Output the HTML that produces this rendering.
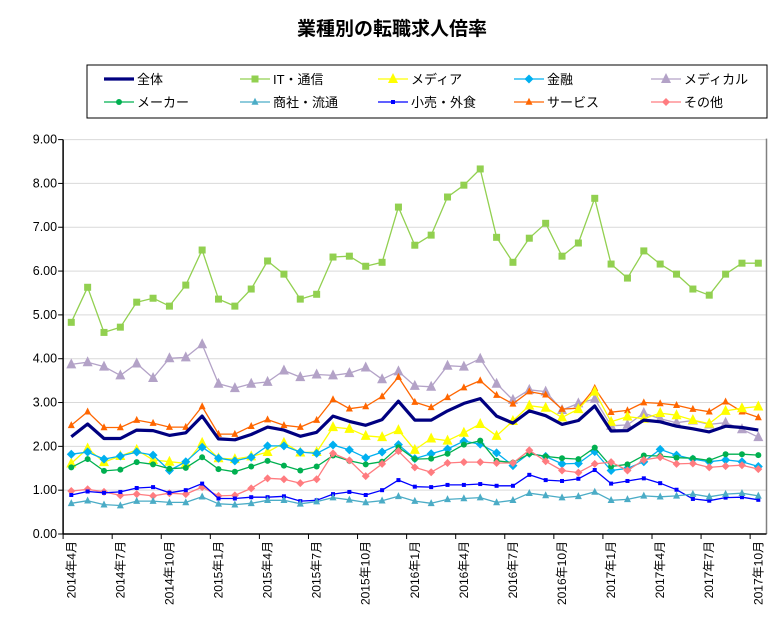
<!DOCTYPE html>
<html><head><meta charset="utf-8"><style>
body{margin:0;background:#fff;font-family:"Liberation Sans","Noto Sans CJK JP",sans-serif;}
#wrap{position:relative;width:782px;height:629px;overflow:hidden;}
</style></head><body>
<div id="wrap">
<svg id="chart" width="782" height="629" xmlns="http://www.w3.org/2000/svg">
<text x="392" y="35" text-anchor="middle" font-size="19" font-weight="bold" font-family="Liberation Sans, Noto Sans CJK JP, sans-serif">業種別の転職求人倍率</text>
<rect x="87" y="65" width="680" height="53" fill="#fff" stroke="#000" stroke-width="1"/>
<g id="grid"></g><g id="axes"></g><g id="series"></g><g id="legend"></g>
</svg>
</div>
<script>
const categories = [];
for (let y = 2014, m = 4; categories.length < 43; ) { categories.push(y + '年' + m + '月'); m++; if (m > 12) { m = 1; y++; } }
const yTicks = [0, 1, 2, 3, 4, 5, 6, 7, 8, 9];
const seriesNames = ['全体','IT・通信','メディア','金融','メディカル','メーカー','商社・流通','小売・外食','サービス','その他'];
const allVals = [2.22,2.51,2.18,2.18,2.37,2.36,2.25,2.31,2.69,2.17,2.15,2.27,2.44,2.37,2.23,2.32,2.69,2.57,2.48,2.61,3.03,2.60,2.60,2.81,2.98,3.09,2.69,2.53,2.81,2.70,2.50,2.59,2.92,2.35,2.36,2.60,2.56,2.46,2.40,2.33,2.46,2.43,2.37];
const itVals = [4.83,5.63,4.60,4.72,5.29,5.38,5.20,5.68,6.48,5.36,5.20,5.59,6.23,5.93,5.36,5.47,6.32,6.34,6.11,6.20,7.46,6.59,6.82,7.69,7.96,8.33,6.77,6.20,6.75,7.09,6.34,6.64,7.66,6.16,5.84,6.46,6.16,5.93,5.59,5.45,5.93,6.18,6.18];
const mediaVals = [1.61,1.95,1.64,1.78,1.92,1.69,1.65,1.61,2.08,1.73,1.71,1.77,1.87,2.08,1.86,1.87,2.44,2.40,2.24,2.21,2.37,1.92,2.18,2.13,2.31,2.51,2.24,2.58,2.93,2.88,2.66,2.85,3.25,2.56,2.68,2.63,2.76,2.71,2.60,2.52,2.81,2.87,2.91];
const financeVals = [1.82,1.87,1.71,1.78,1.87,1.80,1.45,1.65,1.98,1.73,1.67,1.75,2.01,2.01,1.87,1.84,2.03,1.92,1.74,1.87,2.04,1.72,1.83,1.94,2.12,2.05,1.85,1.56,1.84,1.77,1.60,1.61,1.88,1.45,1.50,1.65,1.93,1.80,1.71,1.65,1.69,1.65,1.54];
const medicalVals = [3.87,3.92,3.82,3.62,3.89,3.56,4.01,4.03,4.33,3.43,3.33,3.43,3.47,3.73,3.58,3.64,3.62,3.67,3.80,3.53,3.71,3.38,3.36,3.84,3.82,4.00,3.43,3.06,3.29,3.25,2.83,2.98,3.08,2.47,2.49,2.76,2.63,2.54,2.59,2.50,2.54,2.39,2.21];
const makerVals = [1.52,1.71,1.44,1.47,1.64,1.59,1.49,1.51,1.75,1.48,1.42,1.54,1.67,1.56,1.45,1.54,1.79,1.67,1.59,1.65,1.98,1.71,1.72,1.83,2.04,2.13,1.67,1.63,1.83,1.77,1.73,1.71,1.97,1.54,1.59,1.79,1.78,1.74,1.73,1.68,1.82,1.82,1.80];
const tradeVals = [0.70,0.76,0.67,0.65,0.75,0.75,0.72,0.72,0.85,0.69,0.67,0.70,0.77,0.77,0.69,0.74,0.83,0.78,0.72,0.76,0.86,0.75,0.70,0.79,0.81,0.83,0.72,0.77,0.93,0.88,0.83,0.86,0.96,0.77,0.79,0.87,0.85,0.87,0.91,0.85,0.91,0.93,0.87];
const retailVals = [0.89,0.97,0.94,0.96,1.05,1.07,0.94,1.00,1.15,0.81,0.81,0.84,0.84,0.86,0.75,0.77,0.91,0.96,0.89,1.00,1.23,1.08,1.07,1.12,1.12,1.14,1.10,1.10,1.35,1.23,1.21,1.26,1.46,1.15,1.21,1.27,1.16,1.01,0.80,0.76,0.83,0.84,0.78];
const serviceVals = [2.48,2.79,2.43,2.43,2.60,2.53,2.44,2.44,2.91,2.28,2.28,2.46,2.61,2.48,2.44,2.60,3.07,2.86,2.91,3.14,3.58,3.01,2.89,3.12,3.34,3.50,3.17,2.97,3.25,3.18,2.85,2.87,3.33,2.78,2.82,3.00,2.98,2.94,2.85,2.79,3.02,2.79,2.66];
const otherVals = [0.98,1.02,0.96,0.88,0.91,0.87,0.93,0.91,1.07,0.87,0.88,1.04,1.27,1.25,1.16,1.25,1.84,1.68,1.32,1.60,1.89,1.52,1.41,1.62,1.64,1.64,1.62,1.62,1.91,1.66,1.45,1.40,1.60,1.64,1.45,1.69,1.75,1.60,1.61,1.52,1.55,1.57,1.48];

const NS = 'http://www.w3.org/2000/svg';
const X0 = 63.1, X1 = 766.5, Y0 = 534, Y9 = 139.6;
const bw = (X1 - X0) / categories.length;
function xAt(i) { return X0 + bw * (i + 0.5); }
function yAt(v) { return Y0 - (Y0 - Y9) * v / 9; }
function mk(tag, attrs, parent) { const e = document.createElementNS(NS, tag); for (const k in attrs) e.setAttribute(k, attrs[k]); parent.appendChild(e); return e; }

const grid = document.getElementById('grid'), axes = document.getElementById('axes');
yTicks.forEach(t => {
  const y = yAt(t);
  if (t > 0) { const gl = mk('line', {x1: X0, x2: X1, y1: y, y2: y, stroke: '#d9d9d9', 'stroke-width': 1}, grid);
    
     }
  const tk = mk('line', {x1: X0 - 5, x2: X0, y1: y, y2: y, stroke: '#000'}, axes);
  
  
  const tx = mk('text', {x: X0 - 6, y: y + 4, 'text-anchor': 'end', 'font-size': 12.5, fill: '#000'}, axes);
  tx.textContent = t.toFixed(2);
  
  
});
const rb = mk('line', {x1: X1, x2: X1, y1: Y9 - 1, y2: Y0, stroke: '#808080', 'stroke-width': 1.5}, axes);


const ya = mk('line', {x1: X0, x2: X0, y1: Y9, y2: Y0, stroke: '#000', 'stroke-width': 1.5}, axes);


const xa = mk('line', {x1: X0, x2: X1, y1: Y0, y2: Y0, stroke: '#000', 'stroke-width': 1.5}, axes);


for (let i = 0; i <= categories.length; i += 3) {
  const x = X0 + bw * i;
  const tk = mk('line', {x1: x, x2: x, y1: Y0, y2: Y0 + 5, stroke: '#000'}, axes);
  
  
}
categories.forEach((c, i) => {
  if (i % 3) return;
  const x = xAt(i) + 4, y = 541;
  const tx = mk('text', {x: x, y: y, 'text-anchor': 'end', 'font-size': 12, transform: 'rotate(-90 ' + x + ' ' + y + ')'}, axes);
  tx.textContent = c;
  
  
});

const styles = [
  {vals: allVals, color: '#000080', w: 3.2, m: 'none', s: 0, name: 'series-all'},
  {vals: itVals, color: '#92d050', w: 1.3, m: 'square', s: 7, name: 'series-it'},
  {vals: mediaVals, color: '#ffff00', w: 1.3, m: 'tri', s: 10, name: 'series-media'},
  {vals: financeVals, color: '#00b0f0', w: 1.3, m: 'diamond', s: 9, name: 'series-finance'},
  {vals: medicalVals, color: '#b3a2c7', w: 1.3, m: 'tri', s: 10, name: 'series-medical'},
  {vals: makerVals, color: '#00b050', w: 1.3, m: 'circle', s: 6, name: 'series-maker'},
  {vals: tradeVals, color: '#4bacc6', w: 1.3, m: 'tri', s: 7, name: 'series-trade'},
  {vals: retailVals, color: '#0000ff', w: 1.3, m: 'square', s: 4, name: 'series-retail'},
  {vals: serviceVals, color: '#ff6600', w: 1.3, m: 'tri', s: 7, name: 'series-service'},
  {vals: otherVals, color: '#ff7c80', w: 1.3, m: 'diamond', s: 8, name: 'series-other'}
];
function marker(p, type, x, y, s, color) {
  let e;
  if (type === 'square') e = mk('rect', {x: x - s/2, y: y - s/2, width: s, height: s, fill: color}, p);
  else if (type === 'circle') e = mk('circle', {cx: x, cy: y, r: s/2, fill: color}, p);
  else if (type === 'tri') e = mk('polygon', {points: `${x},${y - s*0.6} ${x - s/2},${y + s*0.4} ${x + s/2},${y + s*0.4}`, fill: color}, p);
  else if (type === 'diamond') e = mk('polygon', {points: `${x},${y - s/2} ${x + s/2},${y} ${x},${y + s/2} ${x - s/2},${y}`, fill: color}, p);
  return e;
}
const sg = document.getElementById('series');
const drawOrder = [1,4,8,2,3,5,9,7,6,0];
drawOrder.forEach(k => {
  const st = styles[k];
  const g = mk('g', {}, sg);
  
  
  const pts = st.vals.map((v, i) => xAt(i).toFixed(1) + ',' + yAt(v).toFixed(1)).join(' ');
  const pl = mk('polyline', {points: pts, fill: 'none', stroke: st.color, 'stroke-width': st.w, 'stroke-linejoin': 'round'}, g);
  
  
  if (st.m !== 'none') st.vals.forEach((v, i) => {
    const e = marker(g, st.m, xAt(i), yAt(v), st.s, st.color);
    
    
  });
});

const lg = document.getElementById('legend');
const colX = [104, 240, 378, 514, 651];
styles.forEach((st, k) => {
  const col = k % 5, row = Math.floor(k / 5);
  const x = colX[col], y = row === 0 ? 79 : 102;
  const g = mk('g', {}, lg);
  
  
  mk('line', {x1: x, x2: x + 30, y1: y, y2: y, stroke: st.color, 'stroke-width': st.w}, g);
  if (st.m !== 'none') marker(g, st.m, x + 15, y, st.s, st.color);
  const t = mk('text', {x: x + 33, y: y + 5, 'font-size': 13}, g);
  t.textContent = seriesNames[k];
});
</script>
</body></html>
